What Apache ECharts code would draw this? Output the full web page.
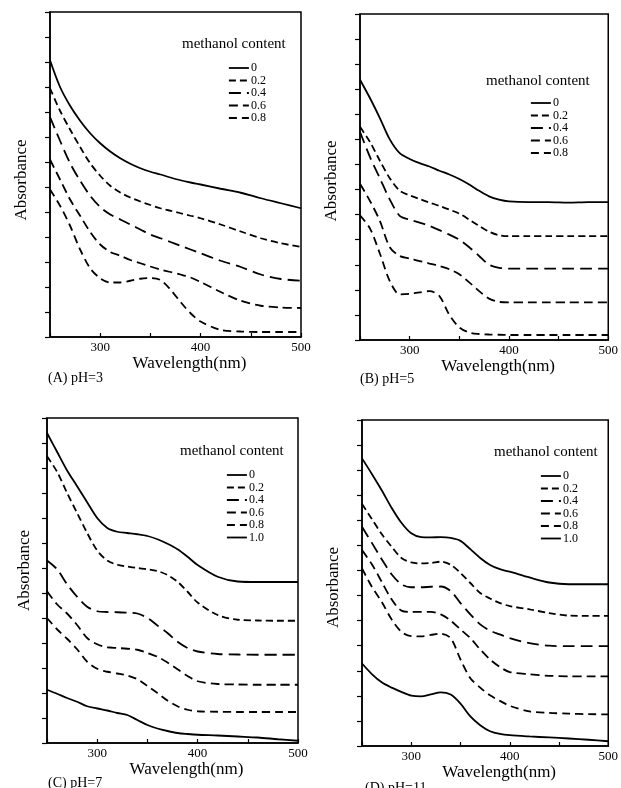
<!DOCTYPE html>
<html>
<head>
<meta charset="utf-8">
<script src="https://cdn.jsdelivr.net/npm/echarts@6/dist/echarts.min.js"></script>
<style>
  html, body { margin: 0; padding: 0; background: #fff; }
  #chart { width: 621px; height: 788px; }
</style>
</head>
<body>
<div id="chart"></div>
<script>
// wavelength grid (nm) shared by every curve
const wavelength = [250, 260, 270, 280, 290, 300, 310, 320, 330, 340, 350, 360, 370, 380, 390, 400, 420, 440, 460, 480, 500]
const xTickLabels = ['300', '400', '500']

// (A) pH=3
const a0 = [11.07, 10.0, 9.25, 8.65, 8.15, 7.75, 7.42, 7.15, 6.93, 6.75, 6.61, 6.5, 6.38, 6.27, 6.18, 6.1, 5.93, 5.77, 5.55, 5.35, 5.15]
const a02 = [9.95, 9.05, 8.3, 7.6, 6.95, 6.45, 6.05, 5.78, 5.58, 5.42, 5.28, 5.15, 5.05, 4.95, 4.85, 4.75, 4.5, 4.22, 3.95, 3.75, 3.6]
const a04 = [8.8, 7.85, 6.95, 6.25, 5.65, 5.2, 4.9, 4.7, 4.5, 4.3, 4.1, 3.95, 3.8, 3.65, 3.5, 3.35, 3.05, 2.8, 2.5, 2.32, 2.25]
const a06 = [7.1, 6.3, 5.5, 4.85, 4.2, 3.7, 3.4, 3.25, 3.08, 2.95, 2.82, 2.7, 2.6, 2.5, 2.38, 2.2, 1.8, 1.45, 1.25, 1.18, 1.16]
const a08 = [5.9, 5.25, 4.45, 3.5, 2.75, 2.35, 2.18, 2.18, 2.25, 2.33, 2.36, 2.28, 1.9, 1.4, 0.95, 0.62, 0.28, 0.22, 0.2, 0.2, 0.2]

// (B) pH=5
const b0 = [10.38, 9.65, 8.85, 8.0, 7.45, 7.22, 7.05, 6.92, 6.75, 6.6, 6.42, 6.2, 5.95, 5.73, 5.6, 5.53, 5.5, 5.5, 5.48, 5.5, 5.5]
const b02 = [8.5, 7.9, 7.15, 6.45, 5.95, 5.77, 5.62, 5.48, 5.35, 5.2, 5.04, 4.8, 4.55, 4.32, 4.18, 4.14, 4.14, 4.14, 4.14, 4.14, 4.14]
const b04 = [8.3, 7.3, 6.45, 5.6, 4.95, 4.8, 4.68, 4.55, 4.38, 4.2, 4.0, 3.7, 3.35, 3.0, 2.88, 2.85, 2.85, 2.85, 2.85, 2.85, 2.85]
const b06 = [6.23, 5.55, 4.75, 3.7, 3.35, 3.25, 3.15, 3.05, 2.95, 2.82, 2.62, 2.3, 1.95, 1.65, 1.52, 1.5, 1.5, 1.5, 1.5, 1.5, 1.5]
const b08 = [4.97, 4.45, 3.45, 2.35, 1.82, 1.84, 1.9, 1.95, 1.75, 1.0, 0.5, 0.3, 0.24, 0.22, 0.21, 0.2, 0.2, 0.2, 0.2, 0.2, 0.2]

// (C) pH=7
const c0 = [12.4, 11.65, 10.9, 10.27, 9.63, 9.0, 8.6, 8.45, 8.4, 8.35, 8.28, 8.15, 7.97, 7.75, 7.45, 7.12, 6.65, 6.46, 6.44, 6.44, 6.44]
const c02 = [11.47, 10.85, 10.0, 9.2, 8.4, 7.7, 7.3, 7.13, 7.06, 7.0, 6.95, 6.88, 6.72, 6.45, 6.05, 5.62, 5.12, 4.93, 4.9, 4.89, 4.89]
const c04 = [7.3, 6.95, 6.35, 5.85, 5.45, 5.27, 5.24, 5.23, 5.21, 5.18, 5.0, 4.7, 4.4, 4.05, 3.8, 3.66, 3.56, 3.54, 3.53, 3.53, 3.53]
const c06 = [6.07, 5.55, 5.18, 4.72, 4.2, 3.95, 3.83, 3.8, 3.77, 3.73, 3.6, 3.45, 3.22, 2.95, 2.68, 2.47, 2.36, 2.34, 2.33, 2.33, 2.33]
const c08 = [5.0, 4.55, 4.17, 3.75, 3.25, 2.97, 2.85, 2.78, 2.7, 2.55, 2.28, 2.0, 1.7, 1.47, 1.33, 1.27, 1.25, 1.24, 1.24, 1.24, 1.24]
const c10 = [2.13, 1.97, 1.8, 1.65, 1.47, 1.38, 1.3, 1.2, 1.12, 0.92, 0.72, 0.58, 0.48, 0.4, 0.36, 0.33, 0.3, 0.26, 0.22, 0.15, 0.09]

// (D) pH=11
const d0 = [11.47, 10.85, 10.2, 9.5, 8.9, 8.48, 8.33, 8.32, 8.33, 8.3, 8.18, 7.85, 7.5, 7.22, 7.05, 6.95, 6.72, 6.52, 6.45, 6.45, 6.45]
const d02 = [9.65, 9.05, 8.45, 7.95, 7.5, 7.32, 7.28, 7.3, 7.35, 7.23, 6.9, 6.5, 6.1, 5.88, 5.7, 5.58, 5.45, 5.3, 5.2, 5.19, 5.19]
const d04 = [8.74, 8.1, 7.45, 6.85, 6.45, 6.33, 6.33, 6.35, 6.36, 6.18, 5.7, 5.25, 4.85, 4.6, 4.45, 4.3, 4.1, 4.0, 3.98, 3.98, 3.98]
const d06 = [7.81, 7.25, 6.55, 5.85, 5.4, 5.35, 5.35, 5.35, 5.25, 5.0, 4.65, 4.3, 3.85, 3.45, 3.15, 2.95, 2.86, 2.8, 2.78, 2.78, 2.78]
const d08 = [7.08, 6.35, 5.75, 5.05, 4.55, 4.38, 4.37, 4.43, 4.48, 4.3, 3.45, 2.7, 2.33, 2.02, 1.8, 1.6, 1.38, 1.32, 1.29, 1.27, 1.26]
const d10 = [3.29, 2.87, 2.54, 2.33, 2.16, 2.01, 1.98, 2.06, 2.14, 2.05, 1.69, 1.18, 0.83, 0.59, 0.48, 0.43, 0.38, 0.34, 0.3, 0.25, 0.19]

const contentNames = ['0', '0.2', '0.4', '0.6', '0.8', '1.0']

const FONT = '"Liberation Serif", "Times New Roman", serif'
const dashes = {
  '0': 'solid',
  '0.2': [7, 4],
  '0.4': [12, 6],
  '0.6': [9, 5],
  '0.8': [8, 5],
  '1.0': 'solid'
}

const panels = [
  { label: '(A) pH=3', curves: [a0, a02, a04, a06, a08],
    grid: { left: 50, top: 12, width: 251, height: 325 },
    xGap: 12, yGap: 20, yPad: [0, 11, 0, 0],
    title: [182, 45], legend: [228, 62], caption: [48, 379] },
  { label: '(B) pH=5', curves: [b0, b02, b04, b06, b08],
    grid: { left: 360, top: 14, width: 251, height: 326 },
    xGap: 13, yGap: 20, yPad: [0, 8, 0, 0],
    title: [486, 82], legend: [530, 97], caption: [360, 380] },
  { label: '(C) pH=7', curves: [c0, c02, c04, c06, c08, c10],
    grid: { left: 47, top: 418, width: 251, height: 325 },
    xGap: 15, yGap: 14, yPad: [0, 0, 0, 20],
    title: [180, 452], legend: [226, 469], caption: [48, 784] },
  { label: '(D) pH=11', curves: [d0, d02, d04, d06, d08, d10],
    grid: { left: 362, top: 420, width: 250, height: 326 },
    xGap: 14, yGap: 20, yPad: [0, 9, 0, 0],
    title: [494, 453], legend: [540, 470], caption: [365, 789] }
]

const option = {
  animation: false,
  backgroundColor: '#fff',
  grid: [],
  xAxis: [],
  yAxis: [],
  legend: [],
  series: [],
  graphic: []
}

panels.forEach((p, i) => {
  option.grid.push(Object.assign({
    show: true, borderColor: '#000', borderWidth: 1.5, backgroundColor: 'transparent'
  }, p.grid))

  option.xAxis.push({
    gridIndex: i,
    type: 'value',
    min: 250,
    max: 500,
    interval: 50,
    name: 'Wavelength(nm)',
    nameLocation: 'middle',
    nameGap: p.xGap,
    nameTextStyle: { fontFamily: FONT, fontSize: 17, color: '#000', padding: [0, 0, 0, 28] },
    axisLine: { lineStyle: { color: '#000', width: 1.5 } },
    axisTick: { inside: true, length: 4, lineStyle: { color: '#000', width: 1.2 } },
    axisLabel: {
      margin: 4,
      fontFamily: FONT,
      fontSize: 13,
      color: '#000',
      formatter: v => (xTickLabels.indexOf(String(v)) >= 0 ? String(v) : '')
    },
    splitLine: { show: false }
  })

  option.yAxis.push({
    gridIndex: i,
    type: 'value',
    min: 0,
    max: 13,
    interval: 1,
    name: 'Absorbance',
    nameLocation: 'middle',
    nameGap: p.yGap,
    nameTextStyle: { fontFamily: FONT, fontSize: 17, color: '#000', padding: p.yPad },
    axisLine: { show: true, lineStyle: { color: '#000', width: 1.5 } },
    axisTick: { show: true, length: 5, lineStyle: { color: '#000', width: 1.2 } },
    axisLabel: { show: false },
    splitLine: { show: false }
  })

  const names = contentNames.slice(0, p.curves.length)

  // legend shows only the line sample, no marker
  option.legend.push({
    orient: 'vertical',
    left: p.legend[0],
    top: p.legend[1],
    padding: 0,
    itemWidth: 20,
    itemHeight: 8,
    itemGap: 0.5,
    selectedMode: false,
    data: names,
    itemStyle: { opacity: 0 },
    lineStyle: { width: 1.8 },
    textStyle: { fontFamily: FONT, fontSize: 12, lineHeight: 12, color: '#000', padding: [0, 0, 0, -3] }
  })

  p.curves.forEach((vals, j) => {
    option.series.push({
      type: 'line',
      name: names[j],
      xAxisIndex: i,
      yAxisIndex: i,
      data: wavelength.map((w, k) => [w, vals[k]]),
      smooth: 0.3,
      symbol: 'none',
      showSymbol: false,
      lineStyle: { color: '#000', width: 1.8, type: dashes[names[j]] },
      itemStyle: { color: '#000' }
    })
  })

  option.graphic.push({
    type: 'text',
    left: p.title[0],
    top: p.title[1] - 8,
    style: { text: 'methanol content', font: '15px ' + FONT, fill: '#000' }
  })
  option.graphic.push({
    type: 'text',
    left: p.caption[0],
    top: p.caption[1] - 8,
    style: { text: p.label, font: '14px ' + FONT, fill: '#000' }
  })
})

const chart = echarts.init(document.getElementById('chart'))
chart.setOption(option)
window.addEventListener('resize', () => chart.resize())
</script>
</body>
</html>
